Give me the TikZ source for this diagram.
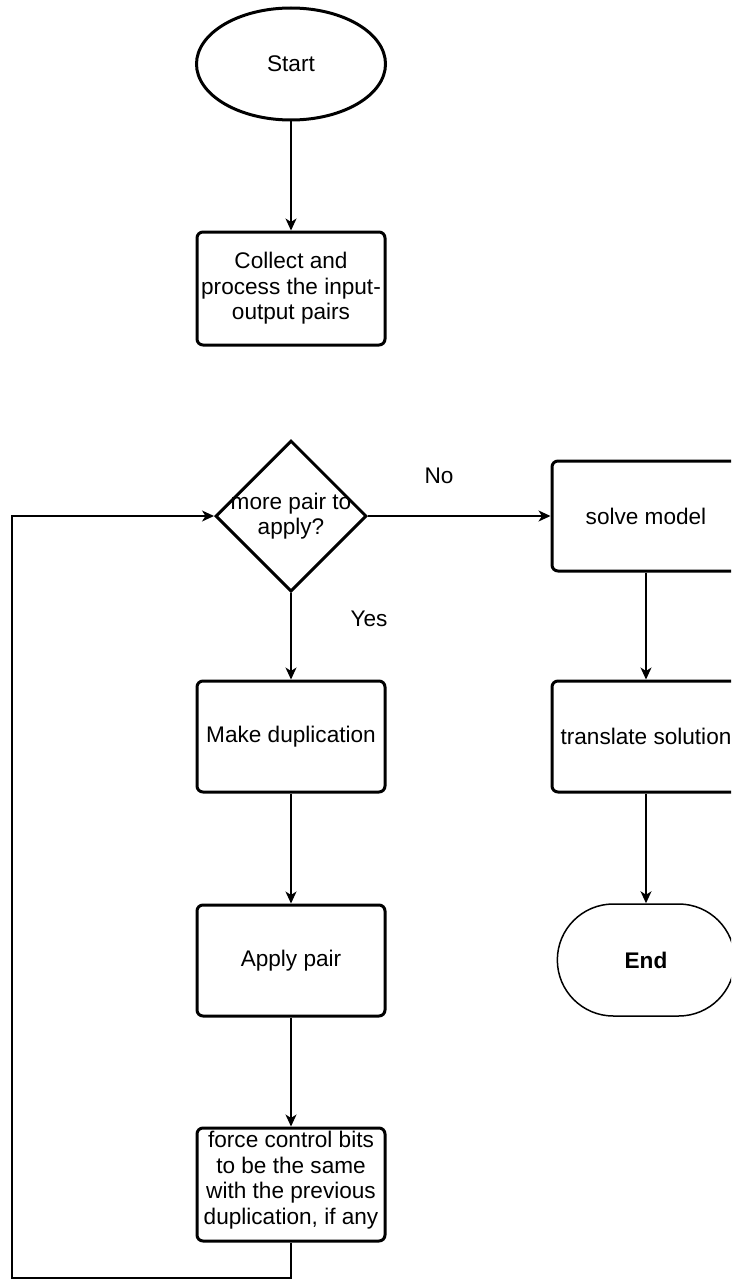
\documentclass[tikz,border=0pt]{standalone}
\usepackage{fontspec}
\setmainfont{Liberation Sans}
\usetikzlibrary{arrows.meta,shapes.geometric,shapes.misc,backgrounds}
\begin{document}
\begin{tikzpicture}[x=1pt,y=-1pt,
  every node/.style={font=\fontsize{22.6}{25.5}\selectfont},
  box/.style={draw,line width=3pt,rounded corners=6pt,fill=white,minimum width=188pt,align=center,inner sep=0pt},
  conn/.style={line width=1.5pt,-{Stealth[length=12pt,width=11pt,inset=3.5pt]}},
  plain/.style={line width=1.5pt}]
\useasboundingbox (0,0) rectangle (731,1279);
\clip (0,0) rectangle (731,1279);
\fill[white] (0,0) rectangle (731,1279);
\node[draw,ellipse,line width=3pt,fill=white,minimum width=189pt,minimum height=112pt] (start) at (291,64) {Start};
\node[box,minimum height=113pt] (collect) at (291,288.5) {Collect and\\process the input-\\output pairs};
\node[draw,diamond,line width=3pt,fill=white,minimum width=151pt,minimum height=151pt,inner sep=0pt,
  label={[font=\fontsize{22.6}{25.5}\selectfont,align=center]center:{more pair to\\apply?}}] (dec) at (291,516) {};
\node[box,minimum height=111pt] (dup) at (291,736.5) {Make duplication};
\node[box,minimum height=111pt] (apply) at (291,960.5) {Apply pair};
\node[box,minimum height=113pt] (force) at (291,1184.5) {};
\node[anchor=north,align=center,inner sep=0pt] (forcetext) at (291,1131) {force control bits\\to be the same\\with the previous\\duplication, if any};
\node[box,minimum height=110pt] (solve) at (646,516) {solve model};
\node[box,minimum height=111pt] (trans) at (646,736.5) {translate solution};
\node[draw,rounded rectangle,line width=1.5pt,fill=white,minimum width=184pt,minimum height=112pt,font=\fontsize{22.6}{25.5}\selectfont\bfseries] (endn) at (646,960) {End};
\node (no) at (439,476) {No};
\node (yes) at (369,619) {Yes};
\coordinate (lb) at (291,1278);
\coordinate (ll) at (12,1278);
\coordinate (lt) at (12,516);
\coordinate (dectop) at (291,448);
\begin{scope}[on background layer]
\draw[conn] (collect.south) -- (dectop);
\end{scope}
\draw[conn] (start.south) -- (collect.north);
\draw[conn] (dec.south) -- (dup.north);
\draw[conn] (dup.south) -- (apply.north);
\draw[conn] (apply.south) -- (force.north);
\draw[conn] (dec.east) -- (solve.west);
\draw[conn] (solve.south) -- (trans.north);
\draw[conn] (trans.south) -- (endn.north);
\draw[conn] (force.south) -- (lb) -- (ll) -- (lt) -- (dec.west);
\end{tikzpicture}
\end{document}
